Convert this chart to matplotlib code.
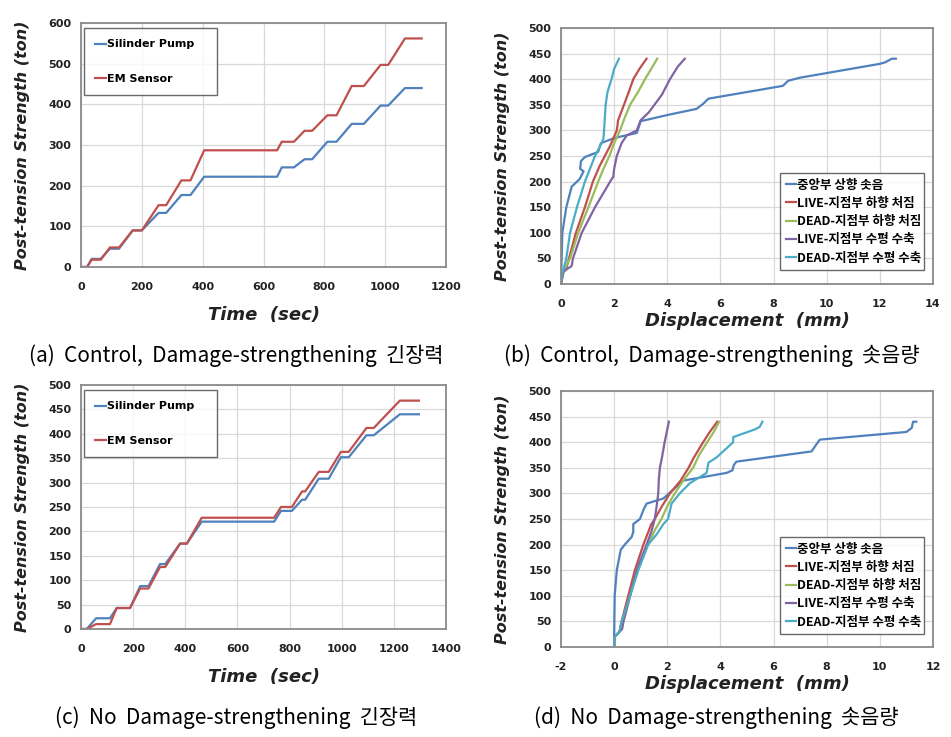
import matplotlib
matplotlib.use('Agg')
import matplotlib.pyplot as plt

plt.rcParams['axes.unicode_minus'] = False

# (a) Control, Damage-strengthening - tension force vs time
t_a = [0, 20, 35, 65, 95, 125, 170, 200, 255, 280, 330, 360, 405, 645, 660, 700, 735, 760, 810, 840, 890, 930, 985, 1010, 1065, 1120]
pump_a = [0, 0, 20, 20, 45, 45, 90, 90, 133, 133, 177, 177, 222, 222, 245, 245, 265, 265, 308, 308, 352, 352, 397, 397, 440, 440]
em_a = [0, 0, 18, 18, 48, 48, 90, 90, 152, 152, 213, 213, 287, 287, 308, 308, 335, 335, 373, 373, 445, 445, 497, 497, 562, 562]

# (c) No Damage-strengthening - tension force vs time
t_c = [0, 22, 58, 111, 137, 188, 227, 259, 303, 323, 380, 406, 463, 741, 767, 809, 848, 860, 912, 950, 997, 1027, 1095, 1123, 1223, 1296]
pump_c = [0, 0, 22, 22, 43, 43, 88, 88, 133, 133, 175, 175, 220, 220, 242, 242, 265, 265, 308, 308, 352, 352, 397, 397, 440, 440]
em_c = [0, 0, 10, 10, 43, 43, 83, 83, 127, 127, 175, 175, 228, 228, 250, 250, 282, 282, 322, 322, 363, 363, 412, 412, 468, 468]

labels_t = ['Silinder Pump', 'EM Sensor']
labels_d = ['중앙부 상향 솟음', 'LIVE-지점부 하향 처짐', 'DEAD-지점부 하향 처짐',
            'LIVE-지점부 수평 수축', 'DEAD-지점부 수평 수축']

# (b) Control, Damage-strengthening - displacement
b_center_x = [0, 0.02, 0.05, 0.2, 0.4, 0.7, 0.85, 0.72, 0.75, 0.9, 1.4, 1.5, 2.0, 2.85, 3.0, 4.0, 5.1, 5.35, 5.55, 8.35, 8.55, 9.0, 12.0, 12.2, 12.45, 12.6]
b_center_y = [0, 40, 100, 150, 190, 205, 220, 225, 240, 248, 258, 275, 285, 295, 318, 330, 342, 352, 362, 387, 397, 403, 430, 433, 440, 440]
b_livev_x = [0, 0.05, 0.2, 0.3, 0.56, 0.9, 1.2, 1.45, 1.65, 1.85, 2.1, 2.15, 2.37, 2.55, 2.72, 2.95, 3.22]
b_livev_y = [0, 20, 30, 50, 100, 150, 200, 230, 250, 270, 300, 320, 350, 375, 400, 420, 440]
b_deadv_x = [0, 0.1, 0.34, 0.65, 1.03, 1.4, 1.6, 1.82, 2.0, 2.22, 2.4, 2.6, 2.9, 3.16, 3.45, 3.62]
b_deadv_y = [0, 25, 50, 100, 150, 200, 225, 250, 275, 300, 325, 350, 375, 400, 425, 440]
b_liveh_x = [0, 0.1, 0.4, 0.45, 0.78, 1.28, 1.85, 1.97, 2.0, 2.1, 2.28, 2.47, 2.85, 3.0, 3.3, 3.66, 3.8, 4.1, 4.4, 4.66]
b_liveh_y = [0, 25, 35, 50, 100, 150, 200, 210, 225, 250, 275, 290, 300, 320, 335, 360, 370, 400, 425, 440]
b_deadh_x = [0, 0.05, 0.2, 0.34, 0.6, 0.9, 1.28, 1.53, 1.6, 1.62, 1.68, 1.75, 1.9, 2.0, 2.18]
b_deadh_y = [0, 20, 50, 100, 150, 200, 250, 275, 285, 300, 350, 375, 400, 420, 440]

# (d) No Damage-strengthening - displacement
d_center_x = [0, 0.0, 0.02, 0.1, 0.25, 0.4, 0.66, 0.72, 0.72, 0.97, 1.12, 1.22, 1.85, 2.6, 4.23, 4.45, 4.5, 4.6, 7.43, 7.6, 7.74, 11.0, 11.2, 11.25, 11.37]
d_center_y = [0, 20, 100, 150, 190, 200, 215, 225, 240, 250, 270, 280, 290, 325, 340, 345, 355, 362, 382, 395, 405, 420, 428, 440, 440]
d_livev_x = [0, 0.02, 0.2, 0.28, 0.53, 0.78, 1.1, 1.4, 1.53, 1.8, 2.1, 2.5, 2.8, 3.0, 3.35, 3.6, 3.88]
d_livev_y = [0, 20, 30, 50, 100, 150, 200, 240, 250, 275, 300, 325, 350, 370, 400, 420, 440]
d_deadv_x = [0, 0.02, 0.2, 0.35, 0.6, 0.85, 1.28, 1.55, 1.78, 2.0, 2.28, 2.6, 2.97, 3.2, 3.5, 3.75, 3.95]
d_deadv_y = [0, 20, 30, 50, 100, 150, 200, 230, 250, 275, 300, 325, 350, 375, 400, 420, 440]
d_liveh_x = [0, 0.02, 0.3, 0.35, 0.6, 0.85, 1.22, 1.4, 1.53, 1.6, 1.66, 1.68, 1.72, 1.8, 1.9, 2.0, 2.06]
d_liveh_y = [0, 20, 35, 50, 100, 150, 200, 225, 250, 275, 300, 325, 350, 370, 400, 425, 440]
d_deadh_x = [0, 0.02, 0.2, 0.28, 0.6, 0.91, 1.28, 1.6, 1.85, 2.03, 2.16, 2.47, 2.85, 3.48, 3.55, 3.85, 4.48, 4.48, 5.3, 5.48, 5.58]
d_deadh_y = [0, 20, 30, 50, 100, 150, 200, 220, 240, 250, 280, 300, 320, 340, 360, 370, 400, 410, 425, 430, 440]

captions = ['(a)  Control,  Damage-strengthening  긴장력', '(b)  Control,  Damage-strengthening  솟음량',
            '(c)  No  Damage-strengthening  긴장력', '(d)  No  Damage-strengthening  솟음량']

colors = ['#4F81BD', '#C0504D', '#9BBB59', '#8064A2', '#4BACC6']
KR = ['Noto Sans CJK KR', 'DejaVu Sans']

W, H = 951, 737
fig = plt.figure(figsize=(W / 100, H / 100), dpi=100)


def add_ax(left, top, right, bottom):
    return fig.add_axes([left / W, 1 - bottom / H, (right - left) / W, (bottom - top) / H])


def style(ax, xlim, xticks, ylim, yticks, xlabel, xpad):
    ax.set_xlim(xlim)
    ax.set_ylim(ylim)
    ax.set_xticks(xticks)
    ax.set_yticks(yticks)
    ax.grid(True, color='#d9d9d9', linewidth=0.9)
    ax.set_axisbelow(True)
    for s in ax.spines.values():
        s.set_color('#8a8a8a')
        s.set_linewidth(1.3)
    ax.tick_params(length=0, labelsize=8, colors='#222222')
    ax.tick_params(axis='x', pad=11)
    ax.tick_params(axis='y', pad=7)
    for lab in ax.get_xticklabels() + ax.get_yticklabels():
        lab.set_fontweight('bold')
    ax.set_xlabel(xlabel, fontsize=13, fontweight='bold', style='italic', color='#222222', labelpad=xpad)
    ax.set_ylabel('Post-tension Strength (ton)', fontsize=11.5, fontweight='bold',
                  style='italic', color='#222222', labelpad=13)


def legend_t(ax):
    leg = ax.legend(loc='upper left', bbox_to_anchor=(0.008, 0.70, 0.364, 0.278), mode='expand',
                    borderaxespad=0, fancybox=False, edgecolor='#444444', handlelength=1.0,
                    handletextpad=0.1, labelspacing=2.2, borderpad=1.0,
                    prop={'weight': 'bold', 'size': 8})
    leg.get_frame().set_linewidth(1.0)


def legend_d(ax, top):
    leg = ax.legend(loc='upper left', bbox_to_anchor=(0.589, 0.0, 0.387, top), mode='expand',
                    borderaxespad=0, fancybox=False, edgecolor='#444444', handlelength=0.8,
                    handletextpad=0.1, labelspacing=0.42, borderpad=0.45,
                    prop={'family': KR, 'weight': 'bold', 'size': 9})
    leg.get_frame().set_linewidth(1.0)


# (a)
ax = add_ax(81, 23, 446, 267)
ax.plot(t_a, pump_a, color=colors[0], lw=1.6, label=labels_t[0])
ax.plot(t_a, em_a, color=colors[1], lw=1.6, label=labels_t[1])
style(ax, (0, 1200), range(0, 1201, 200), (0, 600), range(0, 601, 100), 'Time  (sec)', 10)
legend_t(ax)

# (b)
ax = add_ax(561, 28, 933, 284)
bx = [b_center_x, b_livev_x, b_deadv_x, b_liveh_x, b_deadh_x]
by = [b_center_y, b_livev_y, b_deadv_y, b_liveh_y, b_deadh_y]
for i in range(5):
    ax.plot(bx[i], by[i], color=colors[i], lw=1.6, label=labels_d[i])
style(ax, (0, 14), range(0, 15, 2), (0, 500), range(0, 501, 50), 'Displacement  (mm)', 2)
legend_d(ax, 0.434)

# (c)
ax = add_ax(81, 385, 446, 629)
ax.plot(t_c, pump_c, color=colors[0], lw=1.6, label=labels_t[0])
ax.plot(t_c, em_c, color=colors[1], lw=1.6, label=labels_t[1])
style(ax, (0, 1400), range(0, 1401, 200), (0, 500), range(0, 501, 50), 'Time  (sec)', 10)
legend_t(ax)

# (d)
ax = add_ax(561, 391, 933, 647)
dx = [d_center_x, d_livev_x, d_deadv_x, d_liveh_x, d_deadh_x]
dy = [d_center_y, d_livev_y, d_deadv_y, d_liveh_y, d_deadh_y]
for i in range(5):
    ax.plot(dx[i], dy[i], color=colors[i], lw=1.6, label=labels_d[i])
style(ax, (-2, 12), range(-2, 13, 2), (0, 500), range(0, 501, 50), 'Displacement  (mm)', 2)
legend_d(ax, 0.43)

# captions
fig.text(236 / W, 1 - 356 / H, captions[0], ha='center', va='center', fontsize=15, family=KR, weight='light')
fig.text(712 / W, 1 - 356 / H, captions[1], ha='center', va='center', fontsize=15, family=KR, weight='light')
fig.text(236 / W, 1 - 718 / H, captions[2], ha='center', va='center', fontsize=15, family=KR, weight='light')
fig.text(716 / W, 1 - 718 / H, captions[3], ha='center', va='center', fontsize=15, family=KR, weight='light')

fig.savefig('out.png', dpi=100, facecolor='white')
